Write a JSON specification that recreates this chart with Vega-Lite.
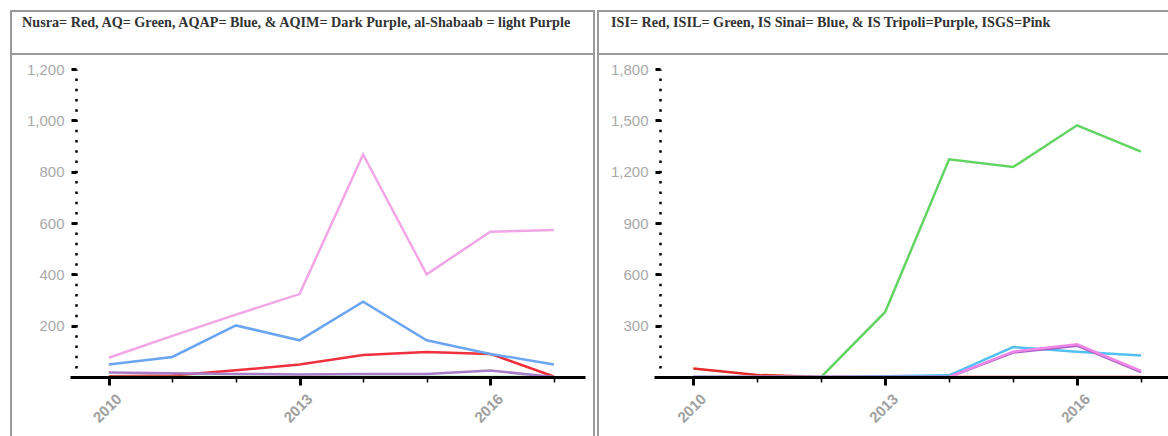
{
  "$schema": "https://vega.github.io/schema/vega-lite/v6.json",
  "padding": {"left": 9, "top": 10, "right": 1, "bottom": 0},
  "spacing": 0,
  "background": "white",
  "config": {
    "view": {"stroke": "#9a9a9a", "strokeWidth": 2},
    "line": {"strokeWidth": 2.5}
  },
  "resolve": {"scale": {"color": "independent", "x": "independent", "y": "independent"}},
  "datasets": {
    "left": [
      {"group": "Nusra", "year": 2010, "value": 3}, {"group": "Nusra", "year": 2011, "value": 6}, {"group": "Nusra", "year": 2012, "value": 26}, {"group": "Nusra", "year": 2013, "value": 49}, {"group": "Nusra", "year": 2014, "value": 86}, {"group": "Nusra", "year": 2015, "value": 97}, {"group": "Nusra", "year": 2016, "value": 90}, {"group": "Nusra", "year": 2017, "value": 2},
      {"group": "AQ", "year": 2010, "value": 0}, {"group": "AQ", "year": 2011, "value": 0}, {"group": "AQ", "year": 2012, "value": 0}, {"group": "AQ", "year": 2013, "value": 0}, {"group": "AQ", "year": 2014, "value": 0}, {"group": "AQ", "year": 2015, "value": 0}, {"group": "AQ", "year": 2016, "value": 0}, {"group": "AQ", "year": 2017, "value": 0},
      {"group": "AQAP", "year": 2010, "value": 49}, {"group": "AQAP", "year": 2011, "value": 78}, {"group": "AQAP", "year": 2012, "value": 201}, {"group": "AQAP", "year": 2013, "value": 143}, {"group": "AQAP", "year": 2014, "value": 293}, {"group": "AQAP", "year": 2015, "value": 143}, {"group": "AQAP", "year": 2016, "value": 90}, {"group": "AQAP", "year": 2017, "value": 49},
      {"group": "AQIM", "year": 2010, "value": 18}, {"group": "AQIM", "year": 2011, "value": 15}, {"group": "AQIM", "year": 2012, "value": 12}, {"group": "AQIM", "year": 2013, "value": 10}, {"group": "AQIM", "year": 2014, "value": 12}, {"group": "AQIM", "year": 2015, "value": 12}, {"group": "AQIM", "year": 2016, "value": 25}, {"group": "AQIM", "year": 2017, "value": 0},
      {"group": "al-Shabaab", "year": 2010, "value": 75}, {"group": "al-Shabaab", "year": 2011, "value": 160}, {"group": "al-Shabaab", "year": 2012, "value": 243}, {"group": "al-Shabaab", "year": 2013, "value": 323}, {"group": "al-Shabaab", "year": 2014, "value": 867}, {"group": "al-Shabaab", "year": 2015, "value": 400}, {"group": "al-Shabaab", "year": 2016, "value": 566}, {"group": "al-Shabaab", "year": 2017, "value": 573}
    ],
    "right": [
      {"group": "ISI", "year": 2010, "value": 49}, {"group": "ISI", "year": 2011, "value": 12}, {"group": "ISI", "year": 2012, "value": 0}, {"group": "ISI", "year": 2013, "value": 0}, {"group": "ISI", "year": 2014, "value": 0}, {"group": "ISI", "year": 2015, "value": 0}, {"group": "ISI", "year": 2016, "value": 0}, {"group": "ISI", "year": 2017, "value": 0},
      {"group": "ISIL", "year": 2010, "value": 0}, {"group": "ISIL", "year": 2011, "value": 0}, {"group": "ISIL", "year": 2012, "value": 0}, {"group": "ISIL", "year": 2013, "value": 380}, {"group": "ISIL", "year": 2014, "value": 1272}, {"group": "ISIL", "year": 2015, "value": 1227}, {"group": "ISIL", "year": 2016, "value": 1471}, {"group": "ISIL", "year": 2017, "value": 1317},
      {"group": "IS Sinai", "year": 2010, "value": 0}, {"group": "IS Sinai", "year": 2011, "value": 0}, {"group": "IS Sinai", "year": 2012, "value": 0}, {"group": "IS Sinai", "year": 2013, "value": 5}, {"group": "IS Sinai", "year": 2014, "value": 10}, {"group": "IS Sinai", "year": 2015, "value": 175}, {"group": "IS Sinai", "year": 2016, "value": 148}, {"group": "IS Sinai", "year": 2017, "value": 125},
      {"group": "IS Tripoli", "year": 2010, "value": 0}, {"group": "IS Tripoli", "year": 2011, "value": 0}, {"group": "IS Tripoli", "year": 2012, "value": 0}, {"group": "IS Tripoli", "year": 2013, "value": 0}, {"group": "IS Tripoli", "year": 2014, "value": 0}, {"group": "IS Tripoli", "year": 2015, "value": 143}, {"group": "IS Tripoli", "year": 2016, "value": 183}, {"group": "IS Tripoli", "year": 2017, "value": 28},
      {"group": "ISGS", "year": 2010, "value": 0}, {"group": "ISGS", "year": 2011, "value": 0}, {"group": "ISGS", "year": 2012, "value": 0}, {"group": "ISGS", "year": 2013, "value": 0}, {"group": "ISGS", "year": 2014, "value": 0}, {"group": "ISGS", "year": 2015, "value": 148}, {"group": "ISGS", "year": 2016, "value": 191}, {"group": "ISGS", "year": 2017, "value": 35}
    ],
    "box": [{"k": 1}]
  },
  "hconcat": [
    {
      "width": 583,
      "height": 426,
      "title": {"text": "Nusra= Red, AQ= Green, AQAP= Blue, & AQIM= Dark Purple, al-Shabaab = light Purple", "anchor": "start", "frame": "group", "offset": -30, "dx": 11, "font": "Liberation Serif", "fontSize": 14.2, "fontWeight": "bold", "color": "#333333", "baseline": "alphabetic"},
      "layer": [
        {
          "data": {"name": "box"},
          "mark": {"type": "rule", "color": "#9a9a9a", "strokeWidth": 2},
          "encoding": {"y": {"datum": 1258, "type": "quantitative"}}
        },
        {
          "data": {"name": "left"},
          "mark": {"type": "line", "strokeWidth": 2.5},
          "encoding": {
            "x": {"field": "year", "type": "quantitative",
              "scale": {"domain": [2009.39, 2017.49], "range": [59, 574], "nice": false, "zero": false},
              "axis": {"orient": "bottom", "offset": -60, "values": [2010, 2011, 2012, 2013, 2014, 2015, 2016, 2017],
                "labelExpr": "datum.value % 3 == 0 ? '' + datum.value : ''",
                "labelAngle": -45, "labelFont": "Liberation Sans", "labelFontSize": 15, "labelFontWeight": "bold", "labelColor": "#a0a0a0",
                "domainColor": "black", "domainWidth": 3, "tickColor": "black",
                "tickWidth": {"condition": {"test": "datum.value % 3 == 0", "value": 3}, "value": 1.5},
                "tickSize": {"condition": {"test": "datum.value % 3 == 0", "value": 8}, "value": 5},
                "labelPadding": 6, "labelOffset": 5, "grid": false, "title": null, "zindex": 1, "labelOverlap": false, "labelBound": false}},
            "y": {"field": "value", "type": "quantitative",
              "scale": {"domain": [0, 1200], "range": [366, 58], "nice": false, "zero": false},
              "axis": {"orient": "left", "offset": -65, "values": [0, 200, 400, 600, 800, 1000, 1200],
                "labelExpr": "datum.value == 0 ? '' : format(datum.value, ',')",
                "domainDash": [2.5, 7.77], "domainDashOffset": 1.25, "domainColor": "black", "domainWidth": 2.5,
                "tickColor": "black", "tickWidth": 3, "tickSize": 5, "labelPadding": 7,
                "labelFont": "Liberation Sans", "labelFontSize": 15, "labelColor": "#a9a9a9",
                "grid": false, "title": null, "zindex": 1}},
            "color": {"field": "group", "type": "nominal", "legend": null,
              "scale": {"domain": ["AQ", "AQIM", "Nusra", "AQAP", "al-Shabaab"], "range": ["#5fcf5f", "#a77cc9", "#f0303c", "#6aa5f2", "#f3a6e6"]}}
          }
        }
      ]
    },
    {
      "width": 575,
      "height": 426,
      "title": {"text": "ISI= Red, ISIL= Green, IS Sinai= Blue, & IS Tripoli=Purple, ISGS=Pink", "anchor": "start", "frame": "group", "offset": -30, "dx": 13, "font": "Liberation Serif", "fontSize": 14.2, "fontWeight": "bold", "color": "#333333", "baseline": "alphabetic"},
      "layer": [
        {
          "data": {"name": "box"},
          "mark": {"type": "rule", "color": "#9a9a9a", "strokeWidth": 2},
          "encoding": {"y": {"datum": 1887.7, "type": "quantitative"}}
        },
        {
          "data": {"name": "right"},
          "mark": {"type": "line", "strokeWidth": 2.5},
          "encoding": {
            "x": {"field": "year", "type": "quantitative",
              "scale": {"domain": [2009.386, 2017.5], "range": [56, 575], "nice": false, "zero": false},
              "axis": {"orient": "bottom", "offset": -60, "values": [2010, 2011, 2012, 2013, 2014, 2015, 2016, 2017],
                "labelExpr": "datum.value % 3 == 0 ? '' + datum.value : ''",
                "labelAngle": -45, "labelFont": "Liberation Sans", "labelFontSize": 15, "labelFontWeight": "bold", "labelColor": "#a0a0a0",
                "domainColor": "black", "domainWidth": 3, "tickColor": "black",
                "tickWidth": {"condition": {"test": "datum.value % 3 == 0", "value": 3}, "value": 1.5},
                "tickSize": {"condition": {"test": "datum.value % 3 == 0", "value": 8}, "value": 5},
                "labelPadding": 6, "labelOffset": 5, "grid": false, "title": null, "zindex": 1, "labelOverlap": false, "labelBound": false}},
            "y": {"field": "value", "type": "quantitative",
              "scale": {"domain": [0, 1800], "range": [366, 58], "nice": false, "zero": false},
              "axis": {"orient": "left", "offset": -62, "values": [0, 300, 600, 900, 1200, 1500, 1800],
                "labelExpr": "datum.value == 0 ? '' : format(datum.value, ',')",
                "domainDash": [2.5, 7.77], "domainDashOffset": 1.25, "domainColor": "black", "domainWidth": 2.5,
                "tickColor": "black", "tickWidth": 3, "tickSize": 5, "labelPadding": 7,
                "labelFont": "Liberation Sans", "labelFontSize": 15, "labelColor": "#a9a9a9",
                "grid": false, "title": null, "zindex": 1}},
            "color": {"field": "group", "type": "nominal", "legend": null,
              "scale": {"domain": ["ISI", "IS Tripoli", "ISGS", "IS Sinai", "ISIL"], "range": ["#e42a2a", "#a861c0", "#ef86ea", "#52c1f0", "#62d462"]}}
          }
        }
      ]
    }
  ]
}
